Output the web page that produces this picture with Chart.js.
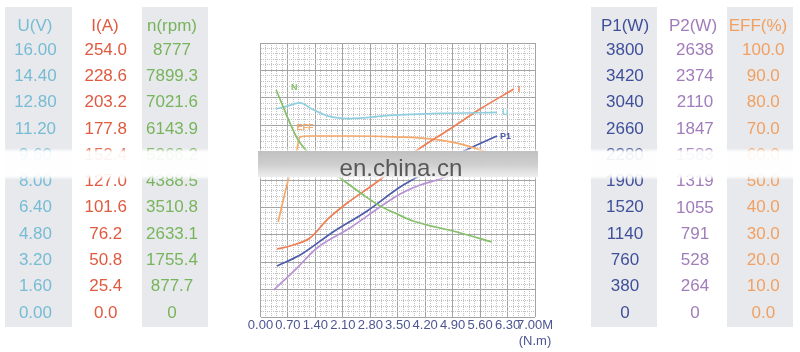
<!DOCTYPE html>
<html>
<head>
<meta charset="utf-8">
<script src="https://cdn.jsdelivr.net/npm/chart.js@4.4.0/dist/chart.umd.min.js"></script>
<style>
  html, body { margin: 0; padding: 0; background: #fff; }
  #wrap { position: relative; width: 800px; height: 352px; overflow: hidden; }
  #chart { display: block; }
  #band {
    position: absolute; left: 0; top: 148px; width: 800px; height: 32px;
    background: linear-gradient(to bottom, rgba(255,255,255,0) 0, rgba(255,255,255,0.93) 4px,
                rgba(255,255,255,0.93) 28px, rgba(255,255,255,0) 32px);
  }
  #bandMid {
    position: absolute; left: 258px; top: 151px; width: 280px; height: 26px;
    background: linear-gradient(to bottom, rgba(186,186,186,0.9), rgba(198,198,198,0.86) 50%, rgba(236,236,236,0.9));
  }
  #mark {
    position: absolute; left: 258px; top: 153px; width: 286px; text-align: center;
    font: 24px "Liberation Sans", Arial, sans-serif; color: #585858; line-height: 30px;
  }
</style>
</head>
<body>
<div id="wrap">
  <canvas id="chart" width="800" height="352"></canvas>
  <div id="band"></div>
  <div id="bandMid"></div>
  <div id="mark">en.china.cn</div>
</div>
<script>
// tick labels (top row first, as in the side tables)
const uLabels   = ['16.00', '14.40', '12.80', '11.20', '9.60', '8.00', '6.40', '4.80', '3.20', '1.60', '0.00'];
const iLabels   = ['254.0', '228.6', '203.2', '177.8', '152.4', '127.0', '101.6', '76.2', '50.8', '25.4', '0.0'];
const nLabels   = ['8777', '7899.3', '7021.6', '6143.9', '5266.2', '4388.5', '3510.8', '2633.1', '1755.4', '877.7', '0'];
const p1Labels  = ['3800', '3420', '3040', '2660', '2280', '1900', '1520', '1140', '760', '380', '0'];
const p2Labels  = ['2638', '2374', '2110', '1847', '1583', '1319', '1055', '791', '528', '264', '0'];
const effLabels = ['100.0', '90.0', '80.0', '70.0', '60.0', '50.0', '40.0', '30.0', '20.0', '10.0', '0.0'];
const xLabels   = ['0.00', '0.70', '1.40', '2.10', '2.80', '3.50', '4.20', '4.90', '5.60', '6.30', '7.00M'];
const xUnit = '(N.m)';

// curves, torque M in N.m
const nTorque = [0.40, 0.96, 1.52, 2.10, 2.59, 3.05, 3.43, 3.89, 5.01, 5.90];
const nSpeed  = [7442, 5773, 5006, 4439, 3971, 3571, 3337, 3070, 2703, 2369];

const uTorque = [0.40, 0.68, 1.01, 1.31, 1.72, 2.28, 3.30, 4.58, 6.03];
const uVolt   = [12.41, 12.59, 12.78, 12.41, 11.98, 11.83, 12.02, 12.14, 12.20];

const iTorque = [0.42, 0.75, 1.26, 1.72, 2.21, 2.97, 3.89, 4.83, 5.60, 6.46];
const iAmp    = [61.8, 64.7, 72.4, 90.8, 106.2, 126.5, 154.5, 177.7, 197.0, 216.3];

const effTorque = [0.45, 0.70, 0.91, 1.01, 1.26, 2.28, 3.56, 4.32, 5.09, 5.85];
const effPct    = [34.6, 50.2, 60.8, 66.9, 67.3, 67.3, 66.9, 66.2, 64.3, 60.8];

const p1Torque = [0.42, 1.01, 1.85, 2.72, 3.56, 4.32, 5.09, 6.03];
const p1Watt   = [679, 838, 1170, 1474, 1820, 2066, 2312, 2557];

const p2Torque = [0.34, 0.93, 1.44, 2.28, 3.12, 3.56, 4.07, 4.58, 4.76];
const p2Watt   = [231, 451, 652, 853, 1083, 1194, 1284, 1344, 1374];

const FONT = '"Liberation Sans", Arial, sans-serif';
const GREY_COL = '#e7e9ec';

// rows of the tables sit a little inside the grid: 7px below top, 4px above bottom (grid is 274px tall)
const ROW_TOP_INSET = 7, ROW_BOTTOM_INSET = 4, ROWS_SPAN = 263;

function toPoints(xs, ys) {
    return xs.map((x, i) => ({ x: x, y: ys[i] }));
}

function tableAxis(labels, color, position, weight, width, pad) {
    const bottomUp = labels.slice().reverse();
    const values = bottomUp.map(l => parseFloat(l));
    const top = values[values.length - 1];
    return {
        type: 'linear',
        position: position,
        weight: weight,
        bounds: 'data',
        min: -top * ROW_BOTTOM_INSET / ROWS_SPAN,
        max: top * (ROWS_SPAN + ROW_TOP_INSET) / ROWS_SPAN,
        grid: { display: false, drawTicks: false },
        border: { display: false },
        afterBuildTicks: s => { s.ticks = values.map(v => ({ value: v })); },
        afterFit: s => {
            s.width = width;
            s.paddingTop = 0;
            s.paddingBottom = 0;
        },
        ticks: {
            autoSkip: false,
            crossAlign: 'center',
            padding: pad,
            color: color,
            font: { family: FONT, size: 17 },
            callback: (v, i) => bottomUp[i]
        }
    };
}

function gridAxis(position, max, values, color, dash) {
    return {
        type: 'linear',
        position: position,
        weight: 0,
        bounds: 'data',
        min: 0,
        max: max,
        afterBuildTicks: s => { s.ticks = values.map(v => ({ value: v })); },
        afterFit: s => { if (position === 'left') s.width = 0; else s.height = 0; },
        ticks: { display: false },
        grid: { color: color, lineWidth: 1, drawTicks: false },
        border: { display: false, dash: dash }
    };
}

const xMajor = xLabels.map(l => parseFloat(l));
const xMinor = [];
const yMajor = [];
const yMinor = [];
for (let k = 0; k < 10; k++) {
    for (let j = 1; j < 5; j++) {
        xMinor.push(+(0.7 * k + 0.14 * j).toFixed(2));
        yMinor.push(+(k + 0.2 * j).toFixed(2));
    }
}
for (let k = 0; k <= 10; k++) yMajor.push(k);

// grey columns and column headers
const columns = [
    { title: 'U(V)',   color: '#77bcd4', center: 35,  bg: [5, 72] },
    { title: 'I(A)',   color: '#df5a3f', center: 105, bg: null },
    { title: 'n(rpm)', color: '#78b45c', center: 172, bg: [142, 208] },
    { title: 'P1(W)',  color: '#3f4f9a', center: 625, bg: [591, 657] },
    { title: 'P2(W)',  color: '#a17dbb', center: 693, bg: null },
    { title: 'EFF(%)', color: '#f2a062', center: 758, bg: [727, 793] }
];

const tablePlugin = {
    id: 'tables',
    beforeDraw(chart) {
        const ctx = chart.ctx;
        ctx.save();
        columns.forEach(c => {
            if (c.bg) {
                ctx.fillStyle = GREY_COL;
                ctx.fillRect(c.bg[0], 7, c.bg[1] - c.bg[0], 320);
            }
            ctx.fillStyle = c.color;
            ctx.font = '17px ' + FONT;
            ctx.textAlign = 'center';
            ctx.textBaseline = 'middle';
            ctx.fillText(c.title, c.center, 26);
        });
        ctx.restore();
    }
};

// small names written at the curves
const curveTags = [
    { text: 'N',   ds: 0, at: 'first', dx: 18, dy: -2, align: 'center' },
    { text: 'U',   ds: 1, at: 'last',  dx: 5,  dy: 0,  align: 'left' },
    { text: 'EFF', ds: 3, at: 4,       dx: -5, dy: -8, align: 'center' },
    { text: 'I',   ds: 2, at: 'last',  dx: 4,  dy: 0,  align: 'left' },
    { text: 'P1',  ds: 4, at: 'last',  dx: 3,  dy: 0,  align: 'left' }
];

const tagPlugin = {
    id: 'tags',
    afterDatasetsDraw(chart) {
        const ctx = chart.ctx;
        ctx.save();
        ctx.font = 'bold 9px ' + FONT;
        ctx.textBaseline = 'middle';
        curveTags.forEach(t => {
            const meta = chart.getDatasetMeta(t.ds);
            const pts = meta.data;
            const idx = t.at === 'first' ? 0 : t.at === 'last' ? pts.length - 1 : t.at;
            const p = pts[idx];
            ctx.fillStyle = chart.data.datasets[t.ds].borderColor;
            ctx.textAlign = t.align;
            ctx.fillText(t.text, p.x + t.dx, p.y + t.dy);
        });
        ctx.restore();
    }
};

function line(label, xs, ys, axis, color) {
    return {
        label: label,
        data: toPoints(xs, ys),
        yAxisID: axis,
        borderColor: color,
        borderWidth: 1.7,
        pointRadius: 0,
        fill: false,
        cubicInterpolationMode: 'monotone'
    };
}

new Chart(document.getElementById('chart'), {
    type: 'line',
    data: {
        datasets: [
            line('N', nTorque, nSpeed, 'yN', '#86c06a'),
            line('U', uTorque, uVolt, 'yU', '#90cfe0'),
            line('I', iTorque, iAmp, 'yI', '#ef7e55'),
            line('EFF', effTorque, effPct, 'yEff', '#f5a86b'),
            line('P1', p1Torque, p1Watt, 'yP1', '#4d5cab'),
            line('P2', p2Torque, p2Watt, 'yP2', '#b892d6')
        ]
    },
    options: {
        responsive: false,
        animation: false,
        layout: { padding: { top: 43, left: 0, right: 0, bottom: 0 } },
        plugins: { legend: { display: false }, tooltip: { enabled: false } },
        scales: {
            x: {
                type: 'linear',
                position: 'bottom',
                bounds: 'data',
                min: 0,
                max: 7,
                afterBuildTicks: s => { s.ticks = xMajor.map(v => ({ value: v })); },
                afterFit: s => { s.height = 35; },
                grid: { color: '#a4a4a4', lineWidth: 1, drawTicks: false },
                border: { display: false },
                ticks: {
                    autoSkip: false,
                    minRotation: 0,
                    maxRotation: 0,
                    padding: 1,
                    color: '#4c5591',
                    font: { family: FONT, size: 13 },
                    callback: (v, i) => i === xLabels.length - 1 ? [xLabels[i], xUnit] : xLabels[i]
                }
            },
            xMinor: gridAxis('bottom', 7, xMinor, '#c2c2c2', [1, 1]),
            yGrid: gridAxis('left', 10, yMajor, '#a4a4a4', []),
            yMinor: gridAxis('left', 10, yMinor, '#c2c2c2', [1, 1]),
            yU: tableAxis(uLabels, '#77bcd4', 'left', 3, 71.7, 15),
            yI: tableAxis(iLabels, '#df5a3f', 'left', 2, 70.3, 15),
            yN: tableAxis(nLabels, '#78b45c', 'left', 1, 118.5, 62.5),
            yP1: tableAxis(p1Labels, '#3f4f9a', 'right', 1, 122, 71),
            yP2: tableAxis(p2Labels, '#a17dbb', 'right', 2, 70, 19),
            yEff: tableAxis(effLabels, '#f2a062', 'right', 3, 73, 15)
        }
    },
    plugins: [tablePlugin, tagPlugin]
});
</script>
</body>
</html>
